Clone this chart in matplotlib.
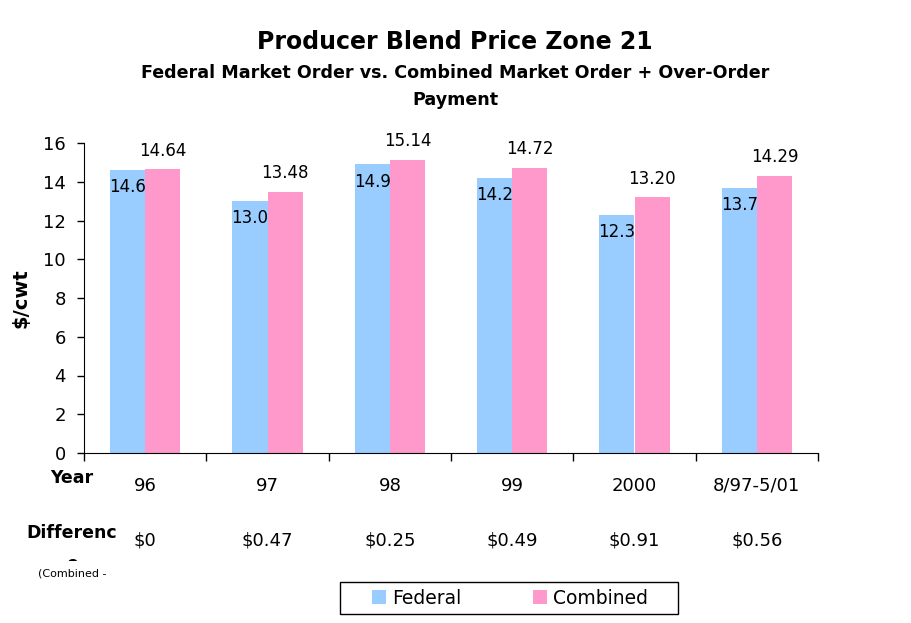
import matplotlib
matplotlib.use("Agg")
import numpy as np
from matplotlib import pyplot as plt
from matplotlib import transforms
from matplotlib.patches import Rectangle

plt.rcParams['font.family'] = ['DejaVu Sans']

years = ["96", "97", "98", "99", "2000", "8/97-5/01"]
federal = [14.6, 13.0, 14.9, 14.2, 12.3, 13.7]
combined = [14.64, 13.48, 15.14, 14.72, 13.20, 14.29]
federal_labels = ["14.6", "13.0", "14.9", "14.2", "12.3", "13.7"]
combined_labels = ["14.64", "13.48", "15.14", "14.72", "13.20", "14.29"]
difference = ["$0", "$0.47", "$0.25", "$0.49", "$0.91", "$0.56"]

fed_color = "#99CCFF"
comb_color = "#FF99CC"

fig = plt.figure(figsize=(9.11, 6.23), dpi=100)
ax = fig.add_axes([84/911, 1-453/623, 734/911, 310/623])

x = np.arange(len(years))
w = 0.287
b1 = ax.bar(x - w/2, federal, w, color=fed_color, label="Federal")
b2 = ax.bar(x + w/2, combined, w, color=comb_color, label="Combined")

for rect, lab in zip(b1, federal_labels):
    ax.annotate(lab, (rect.get_x() + rect.get_width()/2, rect.get_height()),
                xytext=(0, -6), textcoords="offset points",
                ha="center", va="top", fontsize=12)
for rect, lab in zip(b2, combined_labels):
    ax.annotate(lab, (rect.get_x() + rect.get_width()/2, rect.get_height()),
                xytext=(0, 7), textcoords="offset points",
                ha="center", va="bottom", fontsize=12)

ax.set_xlim(-0.5, len(years) - 0.5)
ax.set_ylim(0, 16)
ax.set_yticks(np.arange(0, 17, 2))
ax.tick_params(axis="y", labelsize=13, length=5, width=1, direction="out", pad=8)
ax.set_xticks(np.arange(-0.5, len(years) + 0.5, 1))
ax.set_xticklabels([])
ax.tick_params(axis="x", length=6, width=1, direction="out")
for s in ["top", "right"]:
    ax.spines[s].set_visible(False)
ax.set_ylabel("$/cwt", fontsize=14, fontweight="bold", labelpad=9)

# table rows under the axis
tr = transforms.blended_transform_factory(ax.transData, fig.transFigure)
for i, (yr, d) in enumerate(zip(years, difference)):
    ax.text(i, 1-486/623, yr, transform=tr, ha="center", va="center", fontsize=13)
    ax.text(i, 1-540/623, d, transform=tr, ha="center", va="center", fontsize=13)

fig.text(72/911, 1-478/623, "Year", ha="center", va="center", fontsize=12.5, fontweight="bold")
fig.text(72/911, 1-533/623, "Differenc", ha="center", va="center", fontsize=12.5, fontweight="bold")
e = fig.text(72/911, 1-564/623, "e", ha="center", va="center", fontsize=12.5, fontweight="bold")
clip = Rectangle((0, 1-561/623), 160/911, 20/623, transform=fig.transFigure)
e.set_clip_path(clip)
fig.text(72/911, 1-573/623, "(Combined -", ha="center", va="center", fontsize=8)

# titles
fig.text(455/911, 1-42/623, "Producer Blend Price Zone 21", ha="center", va="center",
         fontsize=17, fontweight="bold")
fig.text(455/911, 1-73/623, "Federal Market Order vs. Combined Market Order + Over-Order",
         ha="center", va="center", fontsize=12.6, fontweight="bold")
fig.text(455/911, 1-100/623, "Payment", ha="center", va="center",
         fontsize=12.6, fontweight="bold")

# legend with a plain box
fig.patches.append(Rectangle((340/911, 1-614/623), 338/911, 32/623,
                             transform=fig.transFigure, facecolor="white",
                             edgecolor="black", linewidth=1))
leg = fig.legend(handles=[b1, b2], labels=["Federal", "Combined"],
                 loc="center", bbox_to_anchor=(510/911, 1-598/623),
                 ncol=2, fontsize=13.5, frameon=False,
                 handlelength=0.75, handleheight=0.7, handletextpad=0.35,
                 columnspacing=3.8, borderpad=0)

fig.savefig("out.png", dpi=100)
